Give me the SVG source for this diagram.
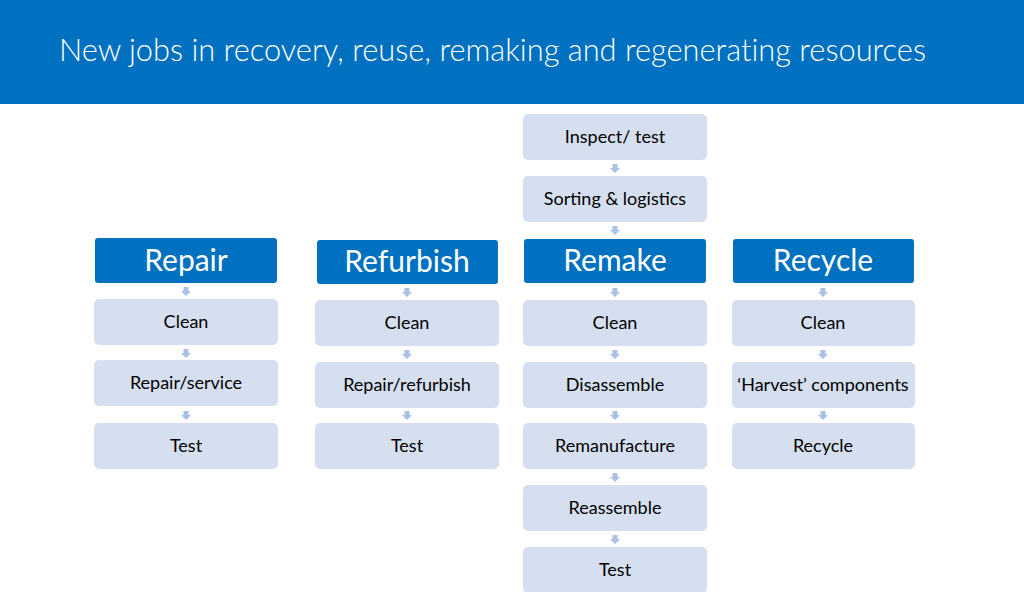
<svg xmlns="http://www.w3.org/2000/svg" width="1024" height="592" viewBox="0 0 1024 592">
<style>
.hdr{fill:#0070C0}
.box{fill:#D5DFEF}
.ht{font-family:Lato,"Open Sans","Liberation Sans",sans-serif;font-size:30px;fill:#fff;text-anchor:middle}
.bt{font-family:Lato,"Open Sans","Liberation Sans",sans-serif;font-size:18px;fill:#000;text-anchor:middle}
.title{font-family:Lato,"Open Sans","Liberation Sans",sans-serif;font-weight:300;font-size:31px;fill:#fff;font-variant-ligatures:none}
.arr{fill:#A9C1E2}
</style>
<defs>
<path id="a" d="M-2.5,0 H2.5 V4 H5 L0,9 L-5,4 H-2.5 Z"/>
</defs>
<rect x="0" y="0" width="1024" height="104" fill="#0070C0"/>
<text class="title" x="59" y="61" textLength="867" lengthAdjust="spacingAndGlyphs">New jobs in recovery, reuse, remaking and regenerating resources</text>

<g id="connectors">
<use href="#a" class="arr" x="186" y="287"/>
<use href="#a" class="arr" x="186" y="349"/>
<use href="#a" class="arr" x="186" y="411"/>
<use href="#a" class="arr" x="407" y="288"/>
<use href="#a" class="arr" x="407" y="350"/>
<use href="#a" class="arr" x="407" y="411"/>
<use href="#a" class="arr" x="615" y="164"/>
<use href="#a" class="arr" x="615" y="226"/>
<use href="#a" class="arr" x="615" y="288"/>
<use href="#a" class="arr" x="615" y="350"/>
<use href="#a" class="arr" x="615" y="411"/>
<use href="#a" class="arr" x="615" y="473"/>
<use href="#a" class="arr" x="615" y="535"/>
<use href="#a" class="arr" x="823" y="288"/>
<use href="#a" class="arr" x="823" y="350"/>
<use href="#a" class="arr" x="823" y="411"/>
</g>

<g id="repair">
<rect class="hdr" x="95" y="238" width="182" height="45" rx="3"/>
<text class="ht" x="186" y="271">Repair</text>
</g>
<g id="repair-clean"><rect class="box" x="94" y="299" width="184" height="46" rx="5"/><text class="bt" x="186" y="328">Clean</text></g>
<g id="repair-service"><rect class="box" x="94" y="360" width="184" height="46" rx="5"/><text class="bt" x="186" y="389">Repair/service</text></g>
<g id="repair-test"><rect class="box" x="94" y="423" width="184" height="46" rx="5"/><text class="bt" x="186" y="452">Test</text></g>

<g id="refurbish">
<rect class="hdr" x="317" y="240" width="181" height="44" rx="3"/>
<text class="ht" x="407" y="272">Refurbish</text>
</g>
<g id="refurbish-clean"><rect class="box" x="315" y="300" width="184" height="46" rx="5"/><text class="bt" x="407" y="329">Clean</text></g>
<g id="refurbish-repair"><rect class="box" x="315" y="362" width="184" height="46" rx="5"/><text class="bt" x="407" y="391">Repair/refurbish</text></g>
<g id="refurbish-test"><rect class="box" x="315" y="423" width="184" height="46" rx="5"/><text class="bt" x="407" y="452">Test</text></g>

<g id="inspect"><rect class="box" x="523" y="114" width="184" height="46" rx="5"/><text class="bt" x="615" y="143">Inspect/ test</text></g>
<g id="sorting"><rect class="box" x="523" y="176" width="184" height="46" rx="5"/><text class="bt" x="615" y="205">Sorting &amp; logistics</text></g>
<g id="remake">
<rect class="hdr" x="524" y="239" width="182" height="44" rx="3"/>
<text class="ht" x="615" y="271">Remake</text>
</g>
<g id="remake-clean"><rect class="box" x="523" y="300" width="184" height="46" rx="5"/><text class="bt" x="615" y="329">Clean</text></g>
<g id="remake-disassemble"><rect class="box" x="523" y="362" width="184" height="46" rx="5"/><text class="bt" x="615" y="391">Disassemble</text></g>
<g id="remake-remanufacture"><rect class="box" x="523" y="423" width="184" height="46" rx="5"/><text class="bt" x="615" y="452">Remanufacture</text></g>
<g id="remake-reassemble"><rect class="box" x="523" y="485" width="184" height="46" rx="5"/><text class="bt" x="615" y="514">Reassemble</text></g>
<g id="remake-test"><rect class="box" x="523" y="547" width="184" height="46" rx="5"/><text class="bt" x="615" y="576">Test</text></g>

<g id="recycle">
<rect class="hdr" x="733" y="239" width="181" height="44" rx="3"/>
<text class="ht" x="823" y="271">Recycle</text>
</g>
<g id="recycle-clean"><rect class="box" x="732" y="300" width="183" height="46" rx="5"/><text class="bt" x="823" y="329">Clean</text></g>
<g id="recycle-harvest"><rect class="box" x="732" y="362" width="183" height="46" rx="5"/><text class="bt" x="823" y="391">‘Harvest’ components</text></g>
<g id="recycle-recycle"><rect class="box" x="732" y="423" width="183" height="46" rx="5"/><text class="bt" x="823" y="452">Recycle</text></g>
</svg>
